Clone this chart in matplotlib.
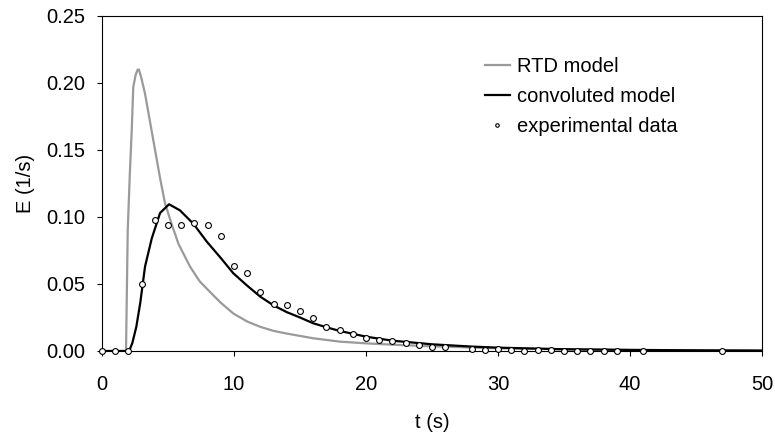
import matplotlib
matplotlib.use("Agg")
import matplotlib.pyplot as plt
from matplotlib.ticker import FormatStrFormatter, MultipleLocator

# ==========================================
# Data
# ==========================================

# RTD model (gray curve)
rtd_t = [0, 1.82, 1.95, 2.1, 2.25, 2.37, 2.55, 2.7, 2.8, 3.0, 3.26, 3.64, 4.02,
         4.4, 4.78, 5.3, 5.79, 6.67, 7.4, 8.19, 9.0, 9.95, 11.0, 12.0, 13.0,
         14.0, 16.0, 18.0, 20.0, 22.5, 25.0, 30.0, 35.0, 40.0, 45.0, 50.0]
rtd_e = [0, 0, 0.090, 0.130, 0.164, 0.197, 0.206, 0.210, 0.210, 0.203, 0.192,
         0.171, 0.150, 0.129, 0.110, 0.094, 0.080, 0.063, 0.052, 0.044, 0.036,
         0.028, 0.022, 0.018, 0.015, 0.013, 0.0095, 0.007, 0.0057, 0.0045,
         0.0035, 0.002, 0.0013, 0.0008, 0.0005, 0.0003]

# convoluted model (black curve)
conv_t = [0, 2.0, 2.1, 2.3, 2.6, 2.9, 3.26, 3.77, 4.4, 5.08, 5.9, 6.92, 7.94,
          8.95, 9.95, 10.97, 12.0, 13.0, 14.0, 15.0, 16.0, 17.0, 18.0, 20.0,
          22.0, 25.0, 28.0, 30.0, 35.0, 40.0, 45.0, 50.0]
conv_e = [0, 0, 0.001, 0.006, 0.018, 0.036, 0.063, 0.084, 0.103, 0.1095, 0.105,
          0.095, 0.0816, 0.070, 0.058, 0.049, 0.0405, 0.034, 0.029, 0.025,
          0.0207, 0.0177, 0.015, 0.0107, 0.0077, 0.005, 0.0033, 0.0025, 0.0013,
          0.0008, 0.0005, 0.0003]

# experimental data (open circles)
exp_t = [0, 1, 2, 3, 4, 5, 6, 7, 8, 9, 10, 11, 12, 13, 14, 15, 16, 17, 18, 19,
         20, 21, 22, 23, 24, 25, 26, 28, 29, 30, 31, 32, 33, 34, 35, 36, 37,
         38, 39, 41, 47]
exp_e = [0, 0, 0, 0.050, 0.098, 0.094, 0.094, 0.0957, 0.094, 0.086, 0.0634,
         0.0585, 0.0438, 0.0348, 0.034, 0.030, 0.0244, 0.018, 0.0157, 0.013,
         0.010, 0.008, 0.0075, 0.0057, 0.0043, 0.0032, 0.0028, 0.0017, 0.0007,
         0.0017, 0.0007, 0, 0.0007, 0.0007, 0, 0, 0, 0, 0, 0, 0]

# ==========================================
# Plot
# ==========================================

plt.rcParams["font.family"] = ["Liberation Sans", "DejaVu Sans"]
plt.rcParams["font.size"] = 14.5

fig = plt.figure(figsize=(7.75, 4.32), dpi=100)
ax = fig.add_axes([0.1316, 0.1875, 0.8516, 0.7755])

ax.plot(rtd_t, rtd_e, color="#9a9a9a", lw=1.6, label="RTD model", zorder=2)
ax.plot(conv_t, conv_e, color="black", lw=1.6, label="convoluted model", zorder=3)
ax.plot(exp_t, exp_e, ls="none", marker="o", ms=4.2, mfc="white", mec="black",
        mew=0.8, label="experimental data", zorder=4, clip_on=False)

ax.set_xlim(0, 50)
ax.set_ylim(0, 0.25)
ax.xaxis.set_major_locator(MultipleLocator(10))
ax.yaxis.set_major_locator(MultipleLocator(0.05))
ax.yaxis.set_major_formatter(FormatStrFormatter("%.2f"))
ax.tick_params(direction="out", length=3.6, width=0.8, top=False, right=False)
ax.tick_params(axis="x", pad=14)
ax.tick_params(axis="y", pad=8.6)
for s in ax.spines.values():
    s.set_linewidth(0.8)

ax.set_xlabel("t (s)", labelpad=13)
ax.set_ylabel("E (1/s)", labelpad=8)

ax.legend(loc="upper left", bbox_to_anchor=(0.58, 0.877), frameon=False,
          handlelength=1.25, handletextpad=0.33, labelspacing=0.55,
          borderpad=0, borderaxespad=0, markerscale=0.6)

fig.savefig("out.png", dpi=100)
